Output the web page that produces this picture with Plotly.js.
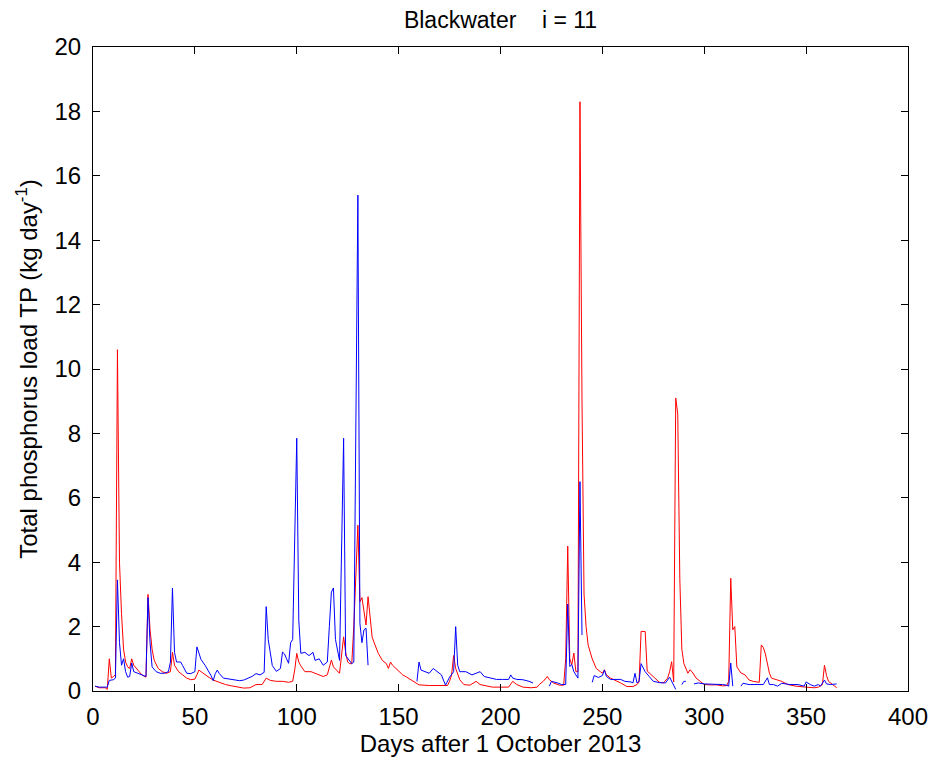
<!DOCTYPE html>
<html>
<head>
<meta charset="utf-8">
<script src="https://cdn.plot.ly/plotly-3.0.1.min.js"></script>
<style>html,body{margin:0;padding:0;background:#fff;}#chart{width:933px;height:761px;}</style>
</head>
<body>
<div id="chart"></div>
<script>
// Red series (day, load)
const redDays = [1,3,6,7,8,9,10,11,12,13,14,15,16,17,18,19,20,22,24,26,27,28,29,30,32,34,36,38,39,40,42,44,46,48,50,51,52,53,55,57,59,62,65,68,71,74,77,79,80,83,85,87,90,93,96,98,99,100,101,102,104,107,109,111,113,115,117,118,120,121,123,124,125,126,127,128,130,131,132,133,134,135,136,137,138,140,142,144,145,146,147,149,152,154,157,160,165,170,174,175,176,177,178,180,182,185,188,190,193,196,200,204,206,208,211,215,218,219,221,223,224,226,229,231,232,233,234,235,236,237,238,239,240,241,242,243,245,247,249,250,251,252,254,256,259,262,265,267,268,269,271,272,274,276,278,280,282,283,284,285,286,287,288,289,290,292,293,294,295,296,298,300,303,306,309,311,312,313,314,315,316,318,320,322,324,326,327,328,329,330,331,332,333,336,338,341,345,350,354,356,358,359,360,361,363,365];
const redLoad = [0.15,0.1,0.1,0.05,1.0,0.4,0.45,0.5,10.6,4.0,2.4,1.3,0.9,0.75,0.7,1.0,0.8,0.65,0.5,0.43,3.0,1.9,1.3,0.96,0.7,0.6,0.55,0.6,1.2,0.8,0.6,0.5,0.4,0.35,0.37,0.5,0.65,0.6,0.5,0.42,0.34,0.26,0.2,0.16,0.12,0.09,0.1,0.18,0.2,0.2,0.4,0.33,0.3,0.3,0.27,0.3,0.65,1.17,0.9,0.78,0.6,0.6,0.55,0.5,0.45,0.5,0.96,0.75,0.6,0.55,1.68,1.2,0.9,0.85,0.85,2.0,5.15,2.77,2.9,2.5,2.05,2.93,2.2,1.68,1.5,1.17,0.95,0.85,0.7,0.9,0.8,0.67,0.5,0.43,0.3,0.19,0.17,0.17,0.17,0.3,0.5,1.1,0.7,0.35,0.2,0.18,0.3,0.2,0.15,0.12,0.12,0.12,0.3,0.2,0.12,0.1,0.12,0.2,0.3,0.45,0.35,0.25,0.18,0.18,1.0,4.5,1.0,0.82,1.18,0.6,0.6,18.3,9.0,3.0,2.0,1.43,1.0,0.7,0.6,0.55,0.66,0.5,0.4,0.35,0.25,0.14,0.14,0.2,0.28,1.85,1.85,0.62,0.5,0.38,0.27,0.25,0.4,0.6,0.91,0.28,9.1,8.6,3.5,1.3,0.85,0.55,0.66,0.6,0.5,0.4,0.3,0.2,0.19,0.19,0.16,0.17,0.3,3.5,1.9,2.0,0.75,0.56,0.5,0.34,0.3,0.27,0.27,1.43,1.35,1.15,0.8,0.55,0.4,0.34,0.3,0.2,0.15,0.12,0.1,0.12,0.2,0.8,0.48,0.3,0.2,0.1];

// Blue series (day, load); null = missing data
const blueDays = [1,3,5,7,8,10,11,12,13,14,15,16,17,18,19,20,22,24,26,27,28,29,31,33,35,37,38,39,40,41,43,44,46,48,50,51,52,53,55,57,58,59,60,61,62,64,67,70,72,74,76,78,80,82,84,85,86,87,88,90,92,93,94,95,96,97,98,100,101,102,104,106,108,109,111,113,115,116,117,118,119,121,123,124,126,127,128,130,131,132,133,134,135,136,159,160,161,163,165,167,169,171,173,175,177,178,179,180,183,186,188,190,192,195,198,201,204,205,206,208,211,214,216,217,224,225,228,230,232,233,234,235,236,238,239,240,241,245,246,248,250,251,252,254,256,259,261,264,265,266,267,268,269,270,271,273,275,278,281,283,284,286,287,289,290,291,292,295,297,300,303,306,309,311,312,313,314,315,318,319,322,326,329,331,332,334,336,338,342,346,349,350,352,354,356,357,359,360,362,365];
const blueLoad = [0.15,0.12,0.12,0.12,0.33,0.35,0.4,3.45,1.5,0.8,1.0,0.6,0.43,0.45,0.87,0.6,0.55,0.5,0.45,2.9,1.5,0.75,0.6,0.55,0.55,0.6,0.9,3.2,1.2,0.9,0.9,0.79,0.55,0.54,0.6,1.37,1.2,0.98,0.8,0.6,0.47,0.32,0.54,0.65,0.54,0.4,0.37,0.35,0.32,0.34,0.4,0.45,0.54,0.5,0.58,2.62,1.6,1.15,0.79,0.61,0.7,1.21,1.15,1.0,0.86,1.5,1.6,7.85,2.2,1.17,1.2,1.1,1.2,0.95,1.0,0.8,0.9,2.0,3.07,3.2,1.6,0.95,7.85,1.1,0.95,0.85,0.9,15.4,2.1,1.5,1.9,1.95,0.8,null,0.3,0.9,0.65,0.6,0.55,0.7,0.6,0.5,0.18,0.43,0.6,2.0,0.8,0.6,0.6,0.5,0.55,0.6,0.45,0.4,0.36,0.36,0.36,0.5,0.4,0.36,0.35,0.3,0.25,null,0.15,0.3,0.25,0.2,0.2,2.7,0.76,0.82,0.6,0.4,6.5,1.74,null,0.27,0.48,0.42,0.48,0.65,0.45,0.36,0.36,0.36,0.3,0.28,0.25,0.55,0.25,0.3,0.85,0.74,0.6,0.45,0.3,0.26,0.25,0.43,0.3,0.05,null,0.2,0.3,0.3,null,0.22,0.25,0.22,0.22,0.2,0.2,0.18,0.15,0.87,0.15,null,0.15,0.24,0.2,0.2,0.2,0.41,0.2,0.2,0.15,0.24,0.2,0.2,0.15,0.28,0.2,0.15,0.2,0.15,0.34,0.22,0.2,0.22];

const xTicks = [0,50,100,150,200,250,300,350,400];
const yTicks = [0,2,4,6,8,10,12,14,16,18,20];

const font = {family: 'Liberation Sans, Arial, sans-serif', color: '#000'};

const traces = [
  {x: redDays, y: redLoad, type: 'scatter', mode: 'lines', line: {color: '#ff0000', width: 1}, connectgaps: false, hoverinfo: 'x+y'},
  {x: blueDays, y: blueLoad, type: 'scatter', mode: 'lines', line: {color: '#0000ff', width: 1}, connectgaps: false, hoverinfo: 'x+y'}
];

const axisCommon = {
  showline: true, linecolor: '#000', linewidth: 1, mirror: 'ticks',
  ticks: 'inside', ticklen: 7, tickcolor: '#000', tickwidth: 1,
  showgrid: false, zeroline: false, tickfont: Object.assign({size: 24}, font)
};

const layout = {
  width: 933, height: 761,
  margin: {l: 93, r: 25, t: 47, b: 70},
  paper_bgcolor: '#fff', plot_bgcolor: '#fff',
  showlegend: false,
  font: font,
  title: {text: 'Blackwater\u00a0\u00a0\u00a0 i = 11', font: Object.assign({size: 23}, font), x: 0.5365, xanchor: 'center', y: 0.974, yanchor: 'middle'},
  xaxis: Object.assign({}, axisCommon, {range: [0, 400], tickvals: xTicks, ticktext: xTicks.map(String), ticklabelstandoff: 4,
    title: {text: 'Days after 1 October 2013', font: Object.assign({size: 24}, font), standoff: 2}}),
  yaxis: Object.assign({}, axisCommon, {range: [0, 20], tickvals: yTicks, ticktext: yTicks.map(String), ticklabelstandoff: 6,
    title: {text: 'Total phosphorus load TP (kg day<sup>-1</sup>)', font: Object.assign({size: 24}, font), standoff: 10}})
};

Plotly.newPlot('chart', traces, layout, {displayModeBar: false, staticPlot: true});
</script>
</body>
</html>
